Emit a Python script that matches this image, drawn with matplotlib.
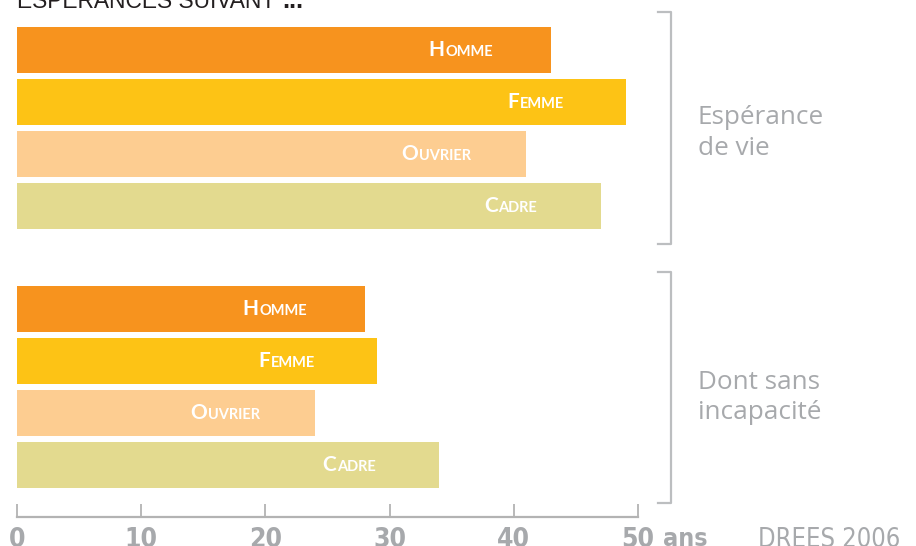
import matplotlib
matplotlib.use("Agg")
import matplotlib.pyplot as plt
import matplotlib.transforms as mtransforms
from matplotlib.offsetbox import TextArea, HPacker, AnnotationBbox

# Data: espérance de vie a 35 ans (DREES 2006)
categories = ["Homme", "Femme", "Ouvrier", "Cadre"]
esperance_vie = [43, 49, 41, 47]
sans_incapacite = [28, 29, 24, 34]
group_labels = ["Espérance\nde vie", "Dont sans\nincapacité"]
xticks = [0, 10, 20, 30, 40, 50]

colors = ["#F7931E", "#FDC315", "#FDCD91", "#E3DA8F"]
gray = "#A7A9AC"

W, H = 916, 546
fig = plt.figure(figsize=(W / 100, H / 100), dpi=100)
# axes: x=0 at px 17, x=50 at px 638 ; top at px 0, bottom spine at px 517
ax = fig.add_axes([17 / W, (H - 517) / H, 621 / W, 517 / H])

pos1 = [0, 1, 2, 3]
pos2 = [5, 6, 7, 8]
ax.barh(pos1, esperance_vie, height=0.885, color=colors, zorder=2)
ax.barh(pos2, sans_incapacite, height=0.885, color=colors, zorder=2)

ax.set_xlim(0, 50)
ax.set_ylim(9.0, -0.963)

for s in ["top", "right", "left"]:
    ax.spines[s].set_visible(False)
ax.spines["bottom"].set_color("#B3B3B3")
ax.spines["bottom"].set_linewidth(1.6)
ax.set_yticks([])
ax.set_xticks(xticks)
ax.set_xticklabels([str(t) for t in xticks])
ax.tick_params(axis="x", direction="in", length=9.5, width=1.3, color="#B3B3B3",
               pad=7.5, labelsize=19, labelcolor=gray)
for lab in ax.get_xticklabels():
    lab.set_fontweight("bold")
    lab.set_fontstretch("condensed")

ax.annotate("ans", xy=(50, 9.0), xycoords="data", xytext=(18, -7.5),
            textcoords="offset points", ha="left", va="top", fontsize=18,
            fontweight="bold", fontstretch="condensed", color=gray,
            annotation_clip=False)


def small_caps(word, x, y):
    big = TextArea(word[0], textprops=dict(color="white", fontsize=15,
                                           family="Lato", fontweight="bold"))
    small = TextArea(word[1:].upper(), textprops=dict(color="white", fontsize=10.5,
                                                      family="Lato", fontweight="bold"))
    box = HPacker(children=[big, small], align="baseline", pad=0, sep=0.5)
    ab = AnnotationBbox(box, (x, y), xycoords="data", frameon=False,
                        box_alignment=(0.5, 0.5), zorder=3)
    ax.add_artist(ab)


for vals, pos in [(esperance_vie, pos1), (sans_incapacite, pos2)]:
    for cat, v, p in zip(categories, vals, pos):
        small_caps(cat, v - 7.25, p)

# brackets on the right
trans = mtransforms.blended_transform_factory(ax.transAxes, ax.transData)
bx = (671 - 17) / 621
bl = (658 - 17) / 621
for pos, lab, dy in zip([pos1, pos2], group_labels, [0.1, 0.2]):
    y0, y1 = pos[0] - 0.73, pos[-1] + 0.73
    ax.plot([bl, bx, bx, bl], [y0, y0, y1, y1], transform=trans,
            color="#BCBEC0", lw=1.6, clip_on=False)
    ax.text((698 - 17) / 621, (pos[0] + pos[-1]) / 2 + dy, lab, transform=trans,
            ha="left", va="center", fontsize=18.8, family="Open Sans",
            color=gray, linespacing=1.3)

# title (cut at the top) and source
fig.text(17 / W, (H - 8) / H, "ESPÉRANCES SUIVANT", ha="left", va="baseline",
         fontsize=16.4, color="#231F20", family="Liberation Sans")
fig.text(282 / W, (H - 8) / H, "...", ha="left", va="baseline",
         fontsize=18, fontweight="bold", color="#231F20", family="Liberation Sans")
fig.text(900 / W, (H - 527) / H, "DREES 2006", ha="right", va="top",
         fontsize=18.4, color=gray, fontstretch="condensed", family="DejaVu Sans")

fig.savefig("out.png", dpi=100)
